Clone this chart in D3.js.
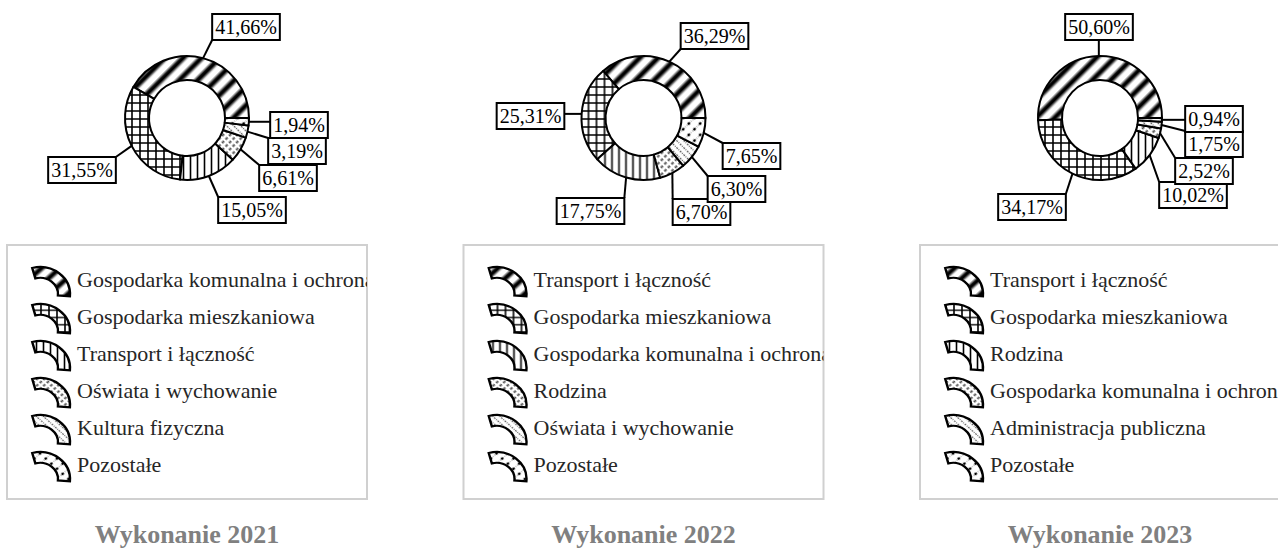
<!DOCTYPE html>
<html>
<head>
<meta charset="utf-8">
<script src="https://cdn.jsdelivr.net/npm/d3@7"></script>
<style>
  body { margin: 0; background: #fff; }
  text { font-family: "Liberation Serif", "Times New Roman", serif; }
</style>
</head>
<body>
<svg id="chart"></svg>
<script>
// data
titles = ["Wykonanie 2021", "Wykonanie 2022", "Wykonanie 2023"];

categories2021 = ["Gospodarka komunalna i ochrona środowiska", "Gospodarka mieszkaniowa", "Transport i łączność",
                  "Oświata i wychowanie", "Kultura fizyczna", "Pozostałe"];
values2021 = [41.66, 31.55, 15.05, 6.61, 3.19, 1.94];

categories2022 = ["Transport i łączność", "Gospodarka mieszkaniowa", "Gospodarka komunalna i ochrona środowiska",
                  "Rodzina", "Oświata i wychowanie", "Pozostałe"];
values2022 = [36.29, 25.31, 17.75, 6.70, 6.30, 7.65];

categories2023 = ["Transport i łączność", "Gospodarka mieszkaniowa", "Rodzina",
                  "Gospodarka komunalna i ochrona środowiska", "Administracja publiczna", "Pozostałe"];
values2023 = [50.60, 34.17, 10.02, 2.52, 1.75, 0.94];

// where the value boxes sit, relative to the donut centre (as placed by hand in the original)
labelOffsets2021 = [[59, -91], [-105, 52], [65, 92], [101, 60], [110, 33], [112, 7]];
labelOffsets2022 = [[71, -82], [-113, -2], [-53, 93], [58, 94], [93, 71], [108, 38]];
labelOffsets2023 = [[-1, -91], [-68, 89], [93, 77], [104, 53], [114, 26], [114, 1]];

charts = [
  {title: titles[0], cats: categories2021, vals: values2021, labels: labelOffsets2021},
  {title: titles[1], cats: categories2022, vals: values2022, labels: labelOffsets2022},
  {title: titles[2], cats: categories2023, vals: values2023, labels: labelOffsets2023}
];

W = 1278; H = 548;
panelWidth = 456.5;
cx0 = 187; cy = 118;
rOuter = 62; rInner = 38;

svg = d3.select('#chart').attr('width', W).attr('height', H);
defs = svg.append('defs');

// ---- fill patterns (one per slice position) ----
var g = defs.append('linearGradient').attr('id', 'stripeGrad');
g.append('stop').attr('offset', '0%').attr('stop-color', '#fff');
g.append('stop').attr('offset', '20%').attr('stop-color', '#fff');
g.append('stop').attr('offset', '44%').attr('stop-color', '#000');
g.append('stop').attr('offset', '60%').attr('stop-color', '#000');
g.append('stop').attr('offset', '84%').attr('stop-color', '#fff');
g.append('stop').attr('offset', '100%').attr('stop-color', '#fff');

function pattern(id, size, rotate) {
  var p = defs.append('pattern').attr('id', id)
    .attr('patternUnits', 'userSpaceOnUse')
    .attr('width', size).attr('height', size);
  if (rotate) p.attr('patternTransform', `rotate(${rotate})`);
  p.append('rect').attr('width', size).attr('height', size).attr('fill', '#fff');
  return p;
}

// wide diagonal stripes
pattern('pat0', 13, 45).append('rect').attr('width', 13).attr('height', 13).attr('fill', 'url(#stripeGrad)');

// grid
var p1 = pattern('pat1', 8);
p1.append('path').attr('d', 'M0,1H8M1,0V8').attr('stroke', '#000').attr('stroke-width', 1.6);

// vertical lines
pattern('pat2', 7).append('line').attr('x1', 3.5).attr('x2', 3.5).attr('y1', 0).attr('y2', 7)
  .attr('stroke', '#000').attr('stroke-width', 1.6);

// grey dashed diagonals
var p3 = pattern('pat3', 5, 45);
p3.append('line').attr('x1', 2.5).attr('x2', 2.5).attr('y1', 0).attr('y2', 5)
  .attr('stroke', '#555').attr('stroke-width', 2).attr('stroke-dasharray', '3,2');

// dotted back-diagonals
var p4 = pattern('pat4', 5, -45);
p4.append('line').attr('x1', 2.5).attr('x2', 2.5).attr('y1', 0).attr('y2', 5)
  .attr('stroke', '#666').attr('stroke-width', 1.3).attr('stroke-dasharray', '1,1');

// dots + light hatch
var p5 = pattern('pat5', 8, 45);
p5.append('line').attr('x1', 4).attr('x2', 4).attr('y1', 0).attr('y2', 8)
  .attr('stroke', '#999').attr('stroke-width', 1).attr('stroke-dasharray', '1,1');
p5.append('circle').attr('cx', 4).attr('cy', 4).attr('r', 1.4).attr('fill', '#000');

fills = ['url(#pat0)', 'url(#pat1)', 'url(#pat2)', 'url(#pat3)', 'url(#pat4)', 'url(#pat5)'];

// slices run counter-clockwise from 3 o'clock in data order
pie = d3.pie().sort(null).value(function(d) { return d; })
  .startAngle(Math.PI / 2).endAngle(Math.PI / 2 - 2 * Math.PI);
arc = d3.arc().innerRadius(rInner).outerRadius(rOuter);
fmt = function(v) { return d3.format('.2f')(v).replace('.', ',') + '%'; };

// legend key shape: bent ring piece
keyArc = d3.arc().innerRadius(18).outerRadius(30)
  .startAngle(-15 * Math.PI / 180).endAngle(95 * Math.PI / 180);

charts.forEach(function(c, ci) {
  var ox = ci * panelWidth;
  var cx = cx0 + ox;
  var panel = svg.append('g');

  // donut
  var donut = panel.append('g').attr('transform', `translate(${cx},${cy})`);
  var arcs = pie(c.vals);
  donut.selectAll('.slice').data(arcs).enter()
    .append('path')
    .attr('class', 'slice')
    .attr('d', arc)
    .attr('fill', function(d, i) { return fills[i]; })
    .attr('stroke', '#000')
    .attr('stroke-width', 2)
    .attr('stroke-linejoin', 'round');

  // value boxes + leader lines
  arcs.forEach(function(d, i) {
    var mid = (d.startAngle + d.endAngle) / 2;
    var px = Math.sin(mid) * rOuter, py = -Math.cos(mid) * rOuter;
    var lx = c.labels[i][0], ly = c.labels[i][1];

    var t = donut.append('text')
      .attr('x', lx).attr('y', ly + 7)
      .attr('text-anchor', 'middle')
      .attr('font-size', 20)
      .attr('fill', '#000')
      .text(fmt(c.vals[i]));
    var tw = t.node().getComputedTextLength();
    var bw = tw + 6, bh = 26;
    var x0 = lx - bw / 2, y0 = ly - bh / 2;

    var qx = Math.max(x0, Math.min(px, x0 + bw));
    var qy = Math.max(y0, Math.min(py, y0 + bh));
    donut.insert('line', 'text')
      .attr('x1', px).attr('y1', py).attr('x2', qx).attr('y2', qy)
      .attr('stroke', '#000').attr('stroke-width', 2);
    donut.insert('rect', 'text')
      .attr('x', x0).attr('y', y0).attr('width', bw).attr('height', bh)
      .attr('fill', '#fff').attr('stroke', '#000').attr('stroke-width', 2);
  });

  // legend box (narrow: long names get cut at its edge, as in the original)
  var lgX = 7 + ox, lgY = 245, lgW = 360, lgH = 254;
  defs.append('clipPath').attr('id', 'clip' + ci)
    .append('rect').attr('x', lgX).attr('y', lgY).attr('width', lgW).attr('height', lgH);
  panel.append('rect')
    .attr('x', lgX).attr('y', lgY).attr('width', lgW).attr('height', lgH)
    .attr('fill', '#fff').attr('stroke', '#d0d0d0').attr('stroke-width', 2);

  var items = panel.append('g').attr('clip-path', `url(#clip${ci})`)
    .selectAll('.item').data(c.cats).enter()
    .append('g')
    .attr('transform', function(d, i) { return `translate(${lgX},${lgY + 42 + i * 37})`; });
  items.append('path')
    .attr('d', keyArc)
    .attr('transform', 'translate(33,7) scale(1,0.9)')
    .attr('fill', function(d, i) { return fills[i]; })
    .attr('stroke', '#000').attr('stroke-width', 2.4);
  items.append('text')
    .attr('x', 70).attr('y', 0)
    .attr('font-size', 22)
    .attr('fill', '#262626')
    .text(function(d) { return d; });

  // title
  panel.append('text')
    .attr('x', cx).attr('y', 543)
    .attr('text-anchor', 'middle')
    .attr('font-size', 26)
    .attr('font-weight', 'bold')
    .attr('fill', '#808080')
    .text(c.title);
});
</script>
</body>
</html>
